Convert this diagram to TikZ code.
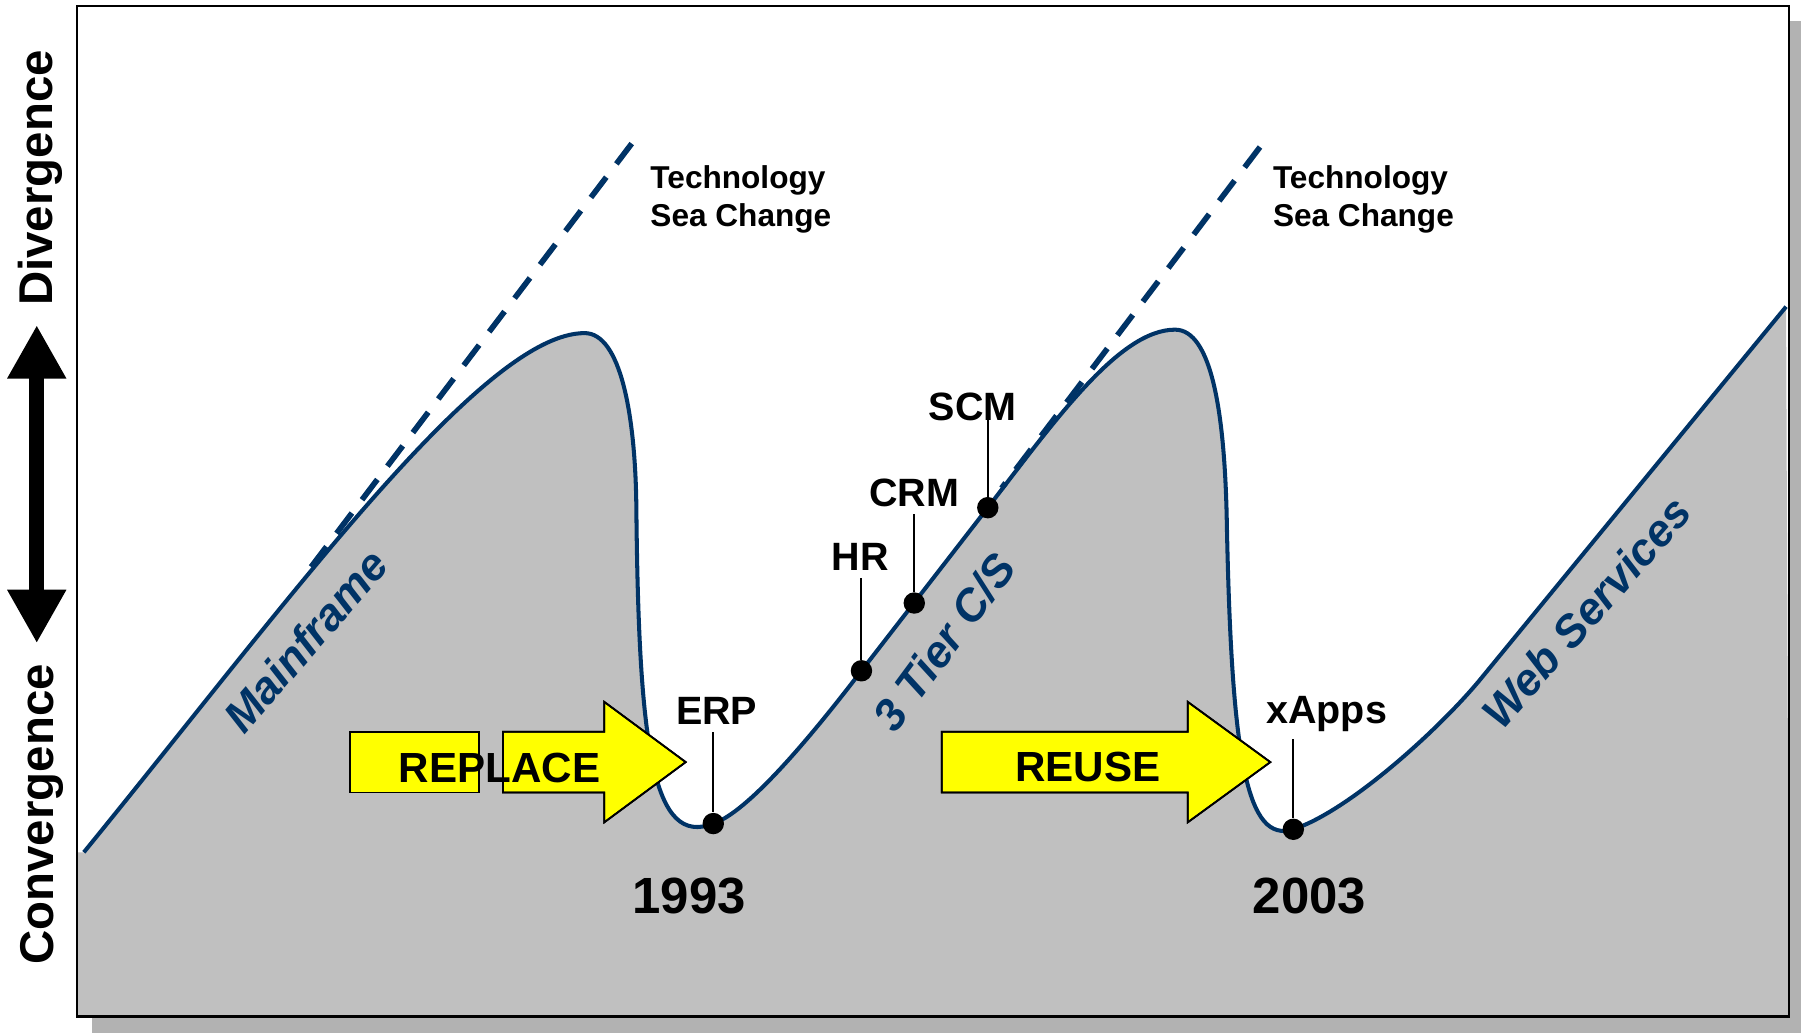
\documentclass[tikz,border=0pt]{standalone}
\usepackage{fontspec}
\setmainfont{Liberation Sans}
\usepackage{tikz}
\usetikzlibrary{arrows.meta}
\usepackage{xcolor}

\definecolor{navy}{RGB}{0,51,102}
\definecolor{hillgray}{RGB}{192,192,192}
\definecolor{shadowgray}{RGB}{178,178,178}
\definecolor{signyellow}{RGB}{255,255,0}

\newcommand{\wavepath}{(73,742) .. controls (250,525) and (420,290) .. (509,290)
	.. controls (540,290) and (553,360) .. (554,440)
	.. controls (556,650) and (568,738) .. (621,717)
	.. controls (655,706) and (720,623) .. (750,584)
	-- (860,442)
	.. controls (920,364) and (975,287) .. (1023,287)
	.. controls (1055,287) and (1066,360) .. (1068,450)
	.. controls (1072,660) and (1085,735) .. (1126,722)
	.. controls (1175,706) and (1255,633) .. (1290,590)
	-- (1555,267)}

\begin{document}
\begin{tikzpicture}[x=0.023cm, y=-0.023cm]
		\tikzset{
			marker/.style = {circle, fill=black, inner sep=0pt, minimum size=12.2pt},
			tag/.style = {font=\bfseries\fontsize{22.5}{27}\selectfont, inner sep=4pt, anchor=base},
			year/.style = {font=\bfseries\fontsize{29}{34}\selectfont, anchor=base},
			era/.style = {font=\bfseries\itshape\fontsize{25.5}{30}\selectfont, text=navy},
			axislabel/.style = {font=\bfseries\fontsize{27}{32}\selectfont, rotate=90, anchor=base},
			seachange/.style = {font=\bfseries\fontsize{18}{21.6}\selectfont, align=left, anchor=north west, inner sep=0pt},
			leader/.style = {line width=1.1pt},
			wave/.style = {draw=navy, line width=2.3pt},
			trend/.style = {navy, line width=3.2pt, dash pattern=on 14.5pt off 9.5pt},
			bigarrow/.style = {fill=signyellow, draw=black, line width=1pt},
			pusher/.style = {font=\bfseries\fontsize{24}{28}\selectfont, anchor=base}
		}
		\useasboundingbox (0,0) rectangle (1568,899);
		\fill[shadowgray] (80,18) rectangle (1568,899);
		\fill[white] (67,5) rectangle (1557.5,885);
		\fill[hillgray] (67,742) -- \wavepath -- (1557.5,885) -- (67,885) -- cycle;
		\coordinate (sea1top) at (550,125);
		\coordinate (sea1foot) at (266,500);
		\coordinate (sea2top) at (1097,128);
		\coordinate (sea2foot) at (872,425);
		\draw[trend] (sea1top) -- (sea1foot);
		\draw[trend] (sea2top) -- (sea2foot);
		\draw[wave] \wavepath;
		\node[seachange] (sea1) at (566,144) {Technology\\Sea Change};
		\node[seachange] (sea2) at (1108,144) {Technology\\Sea Change};
		\node[era, rotate=49] (mainframe) at (266,558) {Mainframe};
		\node[era, rotate=53.5] (tier) at (822,559) {3 Tier C/S};
		\node[era, rotate=48.5] (web) at (1381,533) {Web Services};
		\fill[bigarrow] (305,637) rectangle (417,690);
		\fill[bigarrow] (438,637) -- (526,637) -- (526,611) -- (597,663.5) -- (526,716) -- (526,690) -- (438,690) -- cycle;
		\fill[bigarrow] (820,637) -- (1034,637) -- (1034,611) -- (1106,663.5) -- (1034,716) -- (1034,690) -- (820,690) -- cycle;
		\draw[bigarrow, fill=none] (305,637) rectangle (417,690);
		\draw[bigarrow, fill=none] (438,637) -- (526,637) -- (526,611) -- (597,663.5) -- (526,716) -- (526,690) -- (438,690) -- cycle;
		\draw[bigarrow, fill=none] (820,637) -- (1034,637) -- (1034,611) -- (1106,663.5) -- (1034,716) -- (1034,690) -- (820,690) -- cycle;
		\node[pusher] (replace) at (435,681) {REPLACE};
		\node[pusher] (reuse) at (947,680) {REUSE};
		\node[marker] (erpdot) at (621,717) {};
		\node[marker] (hrdot) at (750,584) {};
		\node[marker] (crmdot) at (796,525) {};
		\node[marker] (scmdot) at (860,442) {};
		\node[marker] (xappsdot) at (1126,722) {};
		\node[tag] (erp) at (624,631) {ERP};
		\node[tag] (hr) at (749,497) {HR};
		\node[tag] (crm) at (796,441) {CRM};
		\node[tag] (scm) at (847,366) {SCM};
		\node[tag] (xapps) at (1155,630) {xApps};
		\draw[leader] (erpdot |- erp.south) -- (erpdot);
		\draw[leader] (hrdot |- hr.south) -- (hrdot);
		\draw[leader] (crmdot |- crm.south) -- (crmdot);
		\draw[leader] (scmdot |- scm.base) -- (scmdot);
		\draw[leader] (xappsdot |- xapps.south) -- (xappsdot);
		\node[year] (y1993) at (600,795) {1993};
		\node[year] (y2003) at (1140,795) {2003};
		\draw[line width=1.3pt] (67,5) rectangle (1557.5,885);
		\node[axislabel] (div) at (46,155) {Divergence};
		\node[axislabel] (conv) at (47,709) {Convergence};
		\coordinate (uptip) at (32,283);
		\coordinate (downtip) at (32,560);
		\draw[line width=8.5pt, {Triangle[length=30.5pt,width=31.5pt]}-{Triangle[length=30.5pt,width=31.5pt]}] (uptip) -- (downtip);
		\end{tikzpicture}
\end{document}
